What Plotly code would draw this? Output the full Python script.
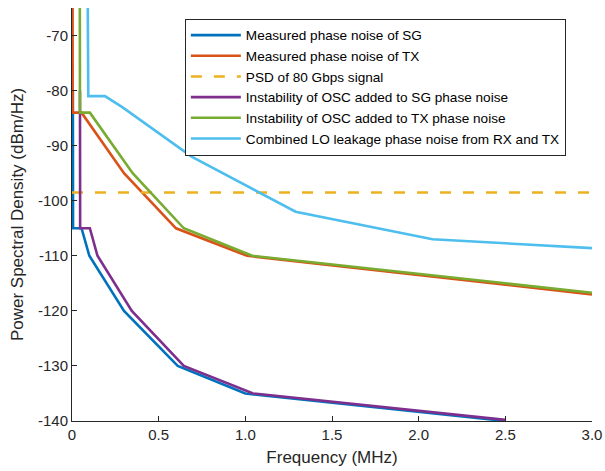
import plotly.graph_objects as go

# ---- data (frequency in MHz, PSD in dBm/Hz) ----
sg_f = [0.005, 0.006, 0.055, 0.10, 0.30, 0.61, 1.00, 2.50]
sg_v = [-80, -105, -105, -110, -120, -130, -135, -140]

tx_f = [0.003, 0.004, 0.055, 0.30, 0.60, 1.01, 3.00]
tx_v = [-60, -84, -84, -95, -105, -110, -117]

psd_f = [0.0, 3.0]
psd_v = [-98.5, -98.5]

osc_sg_f = [0.046, 0.047, 0.103, 0.147, 0.345, 0.645, 1.045, 2.50]
osc_sg_v = [-80, -105, -105, -110, -120, -130, -135, -139.8]

osc_tx_f = [0.045, 0.046, 0.103, 0.35, 0.645, 1.04, 3.00]
osc_tx_v = [-60, -84, -84, -95, -105, -110, -116.7]

lo_f = [0.090, 0.094, 0.19, 0.29, 0.69, 1.29, 2.08, 3.00]
lo_v = [-60, -81, -81, -83, -92, -102, -107, -108.6]

names = [
    "Measured phase noise of SG",
    "Measured phase noise of TX",
    "PSD of 80 Gbps signal",
    "Instability of OSC added to SG phase noise",
    "Instability of OSC added to TX phase noise",
    "Combined LO leakage phase noise from RX and TX",
]
colors = ["#0072BD", "#D95319", "#EDB120", "#7E2F8E", "#77AC30", "#4DBEEE"]

x_ticks = [0, 0.5, 1.0, 1.5, 2.0, 2.5, 3.0]
x_ticktext = ["0", "0.5", "1.0", "1.5", "2.0", "2.5", "3.0"]
y_ticks = [-140, -130, -120, -110, -100, -90, -80, -70]
y_ticktext = ["-140", "-130", "-120", "-110", "-100", "-90", "-80", "-70"]

series = [
    (sg_f, sg_v, "solid"),
    (tx_f, tx_v, "solid"),
    (psd_f, psd_v, "11px,12px"),
    (osc_sg_f, osc_sg_v, "solid"),
    (osc_tx_f, osc_tx_v, "solid"),
    (lo_f, lo_v, "solid"),
]

fig = go.Figure()
for (f, v, dash), name, c in zip(series, names, colors):
    fig.add_trace(go.Scatter(x=f, y=v, mode="lines", name=name,
                             line=dict(color=c, width=2.6, dash=dash)))

axis_color = "#262626"
font_family = "Arial, Liberation Sans, sans-serif"

fig.update_layout(
    width=605, height=471,
    margin=dict(l=72, r=13, t=8, b=50),
    paper_bgcolor="white", plot_bgcolor="white",
    font=dict(family=font_family, size=15, color=axis_color),
    showlegend=True,
    legend=dict(x=0.217, y=0.974, xanchor="left", yanchor="top",
                bgcolor="white", bordercolor=axis_color, borderwidth=1,
                font=dict(size=13.6, color="black"), itemwidth=50,
                tracegroupgap=0),
    xaxis=dict(range=[0, 3], tickvals=x_ticks, ticktext=x_ticktext,
               ticks="inside", ticklen=5, tickcolor=axis_color,
               showline=True, linecolor=axis_color, linewidth=1,
               showgrid=False, zeroline=False, automargin=False,
               title=dict(text="Frequency (MHz)", font=dict(size=17), standoff=9),
               tickfont=dict(size=15)),
    yaxis=dict(range=[-140, -65], tickvals=y_ticks, ticktext=y_ticktext,
               ticks="inside", ticklen=5, tickcolor=axis_color,
               showline=True, linecolor=axis_color, linewidth=1,
               showgrid=False, zeroline=False, automargin=False,
               title=dict(text="Power Spectral Density (dBm/Hz)", font=dict(size=17), standoff=10),
               tickfont=dict(size=15)),
)

fig.write_html("out.html",
               config={"displayModeBar": False},
               post_script="document.body.style.margin='0';document.body.style.overflow='hidden';")
